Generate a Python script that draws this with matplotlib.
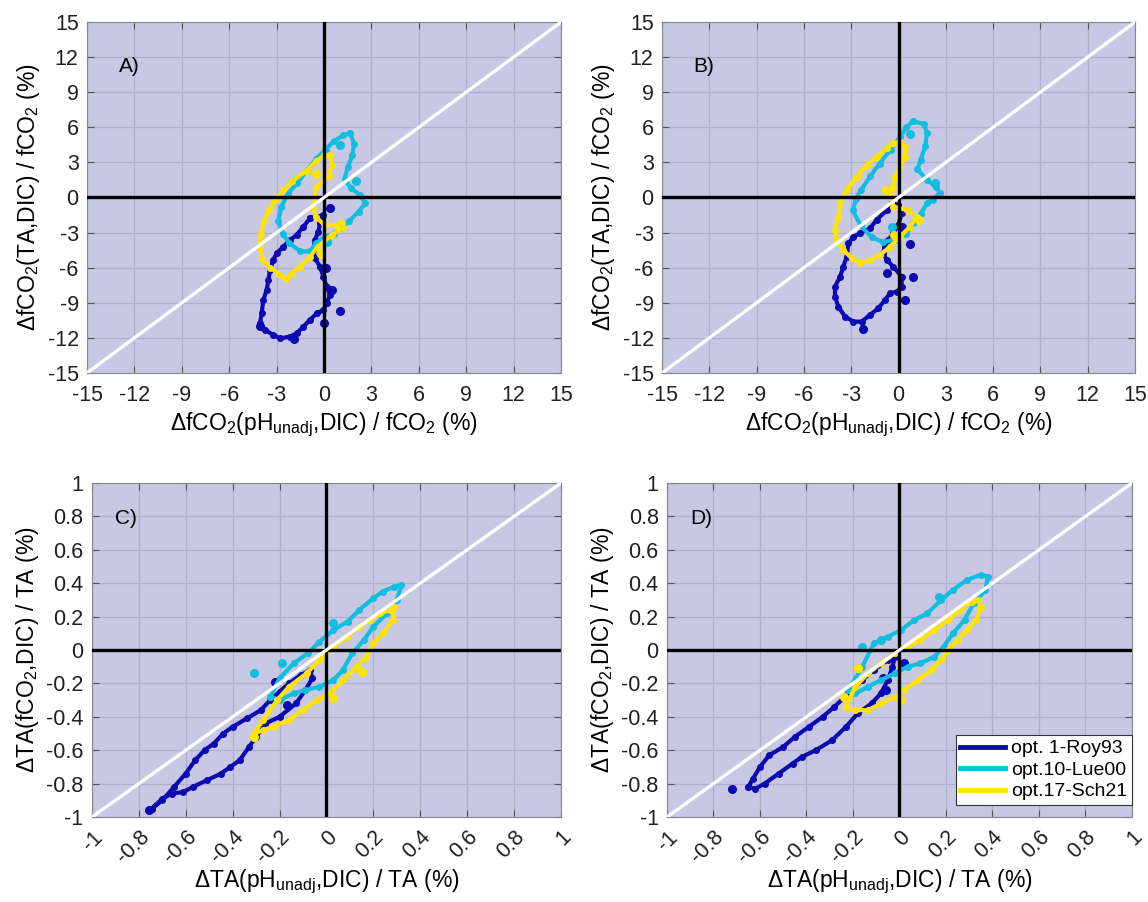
import matplotlib.pyplot as plt
import numpy as np

plt.rcParams['font.family'] = ['Liberation Sans', 'DejaVu Sans']
plt.rcParams['mathtext.default'] = 'regular'
plt.rcParams['axes.unicode_minus'] = False

# ---- contour loops (x, y in %) ----
# panel A
a_roy = [(-0.89, -1.78), (-1.31, -2.49), (-1.73, -3.21), (-2.15, -3.63), (-2.57, -4.2), (-3.0, -4.77),
         (-3.21, -5.34), (-3.42, -6.2), (-3.52, -7.05), (-3.63, -7.91), (-3.84, -8.76), (-3.95, -9.9),
         (-4.05, -10.75), (-3.73, -11.32), (-3.21, -11.75), (-2.78, -12.04), (-2.15, -11.89), (-1.73, -11.61),
         (-1.31, -11.04), (-0.89, -10.47), (-0.46, -9.9), (-0.04, -9.62), (0.17, -9.05), (0.38, -8.33),
         (0.17, -7.62), (-0.04, -6.77), (-0.25, -5.91), (-0.57, -5.2), (-0.68, -4.49), (-0.57, -3.63),
         (-0.36, -2.92), (-0.25, -2.21), (-0.04, -1.5)]
a_lue = [(1.65, 5.5), (1.9, 4.6), (1.8, 3.6), (1.5, 2.6), (1.3, 1.6), (1.7, 0.8), (2.3, 0.2), (2.6, -0.5),
         (2.2, -1.2), (1.6, -2.0), (1.1, -2.6), (0.6, -3.1), (0.0, -3.4), (-0.5, -3.9), (-0.9, -4.6),
         (-1.5, -4.6), (-2.2, -3.9), (-2.6, -3.1), (-2.9, -2.0), (-2.7, -0.8), (-2.3, 0.3), (-1.7, 1.2),
         (-1.1, 2.3), (-0.5, 3.3), (0.1, 4.1), (0.6, 4.8), (1.2, 5.3)]
a_sch = [(0.4, 3.6), (0.5, 2.8), (0.3, 1.8), (-0.5, 0.9), (-0.7, -0.8), (-0.5, -1.7), (0.0, -2.3), (0.8, -2.4),
         (1.2, -2.6), (0.5, -3.2), (-0.4, -4.2), (-0.9, -5.1), (-1.5, -5.9), (-2.1, -6.5), (-2.4, -7.0),
         (-2.9, -6.5), (-3.4, -6.0), (-3.9, -5.3), (-4.05, -4.2), (-4.0, -3.1), (-3.8, -2.0), (-3.5, -1.1),
         (-3.1, -0.2), (-2.6, 0.6), (-2.0, 1.4), (-1.1, 2.3), (-0.5, 3.1), (0.0, 3.6)]
a_roy_dots = [(1.0, -9.7), (0.5, -7.9), (0.4, -0.9), (0.1, -6.0), (-1.9, -12.1), (-4.05, -11.0), (0.0, -10.7)]
a_lue_dots = [(1.0, 4.5), (2.0, 1.4), (0.2, -3.8)]
a_sch_dots = [(-0.5, 2.0), (1.1, -2.3), (-0.2, -4.8)]

# panel B
b_roy = [(-0.43, -0.5), (-0.75, -1.07), (-1.39, -1.92), (-1.81, -2.64), (-2.44, -3.06), (-2.86, -3.35),
         (-3.18, -3.92), (-3.29, -5.06), (-3.5, -5.91), (-3.71, -6.77), (-4.03, -7.62), (-4.03, -8.48),
         (-3.82, -9.33), (-3.39, -10.19), (-2.86, -10.61), (-2.34, -10.61), (-1.81, -10.04), (-1.28, -9.47),
         (-0.86, -8.76), (-0.54, -8.19), (-0.12, -8.05), (0.2, -7.62), (0.2, -6.77), (-0.33, -5.91),
         (-0.75, -5.34), (-0.96, -4.77), (-0.86, -4.2), (-0.64, -3.63), (-0.33, -3.06), (-0.01, -2.35),
         (0.2, -1.35), (-0.01, -0.64)]
b_lue = [(0.9, 6.5), (1.6, 6.3), (1.8, 5.5), (1.7, 4.4), (1.4, 3.2), (1.2, 2.4), (1.8, 1.5), (2.4, 0.9),
         (2.6, 0.4), (2.2, -0.2), (1.8, -0.5), (1.4, -1.4), (0.9, -2.2), (0.5, -3.1), (-0.1, -3.6),
         (-1.0, -3.8), (-1.7, -3.4), (-2.4, -2.4), (-2.9, -1.1), (-2.7, -0.1), (-2.4, 0.6), (-1.8, 1.8),
         (-1.2, 2.9), (-0.5, 4.1), (0.1, 5.2), (0.5, 6.0)]
b_sch = [(0.1, 4.77), (0.41, 4.35), (0.4, 3.5), (0.1, 2.64), (-0.22, 1.78), (-0.33, 0.93), (-0.45, 0.1),
         (-0.33, -0.78), (0.52, -1.07), (1.15, -1.64), (0.73, -2.49), (0.1, -3.35), (-0.54, -4.2),
         (-1.17, -4.91), (-1.81, -5.34), (-2.44, -5.63), (-2.97, -5.2), (-3.5, -4.49), (-3.92, -3.63),
         (-4.03, -2.78), (-3.82, -1.64), (-3.71, -0.5), (-3.29, 0.64), (-2.65, 1.78), (-2.02, 2.78),
         (-1.38, 3.49), (-0.75, 4.2), (-0.33, 4.63)]
b_roy_dots = [(0.94, -6.77), (0.73, -3.98), (-0.75, -6.48), (-2.23, -11.27), (0.41, -8.76), (0.2, -2.49)]
b_lue_dots = [(0.7, 5.4), (2.3, 1.2), (-0.4, -2.5)]
b_sch_dots = [(-0.8, 0.6), (1.3, -1.9), (-0.3, -3.2)]

# panel C
c_roy = [(-0.745, -0.95), (-0.70, -0.90), (-0.65, -0.82), (-0.60, -0.74), (-0.56, -0.66), (-0.52, -0.60),
         (-0.48, -0.56), (-0.44, -0.50), (-0.40, -0.46), (-0.34, -0.41), (-0.28, -0.36), (-0.24, -0.30),
         (-0.20, -0.25), (-0.16, -0.20), (-0.11, -0.15), (-0.07, -0.12), (-0.06, -0.17), (-0.09, -0.24),
         (-0.13, -0.32), (-0.20, -0.40), (-0.26, -0.44), (-0.30, -0.52), (-0.33, -0.58), (-0.37, -0.66),
         (-0.41, -0.70), (-0.45, -0.74), (-0.51, -0.78), (-0.57, -0.82), (-0.61, -0.85), (-0.66, -0.86),
         (-0.70, -0.89)]
c_lue = [(-0.24, -0.28), (-0.20, -0.17), (-0.14, -0.08), (-0.08, -0.02), (-0.03, 0.05), (0.03, 0.12),
         (0.09, 0.17), (0.14, 0.24), (0.20, 0.31), (0.24, 0.35), (0.29, 0.38), (0.32, 0.39), (0.30, 0.30),
         (0.26, 0.22), (0.20, 0.14), (0.16, 0.06), (0.11, -0.02), (0.07, -0.12), (0.03, -0.18),
         (-0.03, -0.22), (-0.09, -0.24), (-0.14, -0.26), (-0.20, -0.30)]
c_sch = [(-0.31, -0.50), (-0.27, -0.42), (-0.21, -0.30), (-0.16, -0.22), (-0.085, -0.14), (-0.03, -0.06),
         (0.03, 0.02), (0.086, 0.08), (0.14, 0.14), (0.185, 0.18), (0.23, 0.22), (0.27, 0.24), (0.29, 0.26),
         (0.285, 0.18), (0.24, 0.10), (0.20, 0.04), (0.17, -0.04), (0.13, -0.10), (0.07, -0.18),
         (0.015, -0.26), (-0.04, -0.30), (-0.10, -0.36), (-0.16, -0.42), (-0.23, -0.46), (-0.27, -0.48)]
c_roy_dots = [(-0.755, -0.96), (-0.22, -0.19), (-0.17, -0.33)]
c_lue_dots = [(-0.31, -0.14), (-0.19, -0.08), (0.03, 0.16)]
c_sch_dots = [(0.03, -0.29), (0.15, -0.13), (-0.31, -0.52)]

# panel D
d_roy = [(-0.65, -0.82), (-0.63, -0.77), (-0.60, -0.70), (-0.56, -0.63), (-0.50, -0.58), (-0.45, -0.52),
         (-0.39, -0.46), (-0.33, -0.40), (-0.28, -0.34), (-0.22, -0.26), (-0.16, -0.18), (-0.11, -0.12),
         (-0.05, -0.06), (-0.02, -0.04), (-0.03, -0.10), (-0.05, -0.18), (-0.08, -0.26), (-0.12, -0.32),
         (-0.18, -0.38), (-0.23, -0.46), (-0.29, -0.54), (-0.36, -0.60), (-0.42, -0.64), (-0.46, -0.68),
         (-0.52, -0.74), (-0.58, -0.80), (-0.62, -0.83)]
d_lue = [(-0.22, -0.24), (-0.16, -0.10), (-0.11, 0.04), (-0.05, 0.08), (0.007, 0.12), (0.064, 0.18),
         (0.12, 0.22), (0.18, 0.30), (0.23, 0.36), (0.29, 0.42), (0.35, 0.45), (0.38, 0.44), (0.37, 0.36),
         (0.32, 0.28), (0.28, 0.18), (0.23, 0.10), (0.19, 0.02), (0.15, -0.04), (0.09, -0.08), (0.035, -0.10),
         (-0.02, -0.14), (-0.08, -0.18), (-0.135, -0.22), (-0.19, -0.26)]
d_sch = [(-0.23, -0.34), (-0.19, -0.22), (-0.135, -0.14), (-0.08, -0.08), (-0.02, -0.02), (0.035, 0.02),
         (0.09, 0.06), (0.15, 0.12), (0.21, 0.18), (0.26, 0.24), (0.31, 0.29), (0.34, 0.30), (0.35, 0.26),
         (0.33, 0.18), (0.29, 0.12), (0.25, 0.06), (0.21, 0.0), (0.18, -0.06), (0.135, -0.12), (0.08, -0.18),
         (0.02, -0.24), (-0.02, -0.28), (-0.08, -0.32), (-0.135, -0.36), (-0.19, -0.36)]
d_roy_dots = [(-0.72, -0.83), (-0.07, -0.17), (-0.06, -0.24), (0.02, -0.08)]
d_lue_dots = [(-0.16, 0.02), (-0.08, 0.06), (0.17, 0.32)]
d_sch_dots = [(-0.18, -0.11), (0.007, -0.30), (-0.24, -0.28)]

series_names = ['opt. 1-Roy93', 'opt.10-Lue00', 'opt.17-Sch21']
series_colors = ['#0a0ab0', '#12bde0', '#ffe400']

big_ticks = [-15, -12, -9, -6, -3, 0, 3, 6, 9, 12, 15]
small_ticks = [-1, -0.8, -0.6, -0.4, -0.2, 0, 0.2, 0.4, 0.6, 0.8, 1]
small_tick_labels = ['-1', '-0.8', '-0.6', '-0.4', '-0.2', '0', '0.2', '0.4', '0.6', '0.8', '1']

fco2_xlabel = 'ΔfCO$_2$(pH$_{unadj}$,DIC) / fCO$_2$ (%)'
fco2_ylabel = 'ΔfCO$_2$(TA,DIC) / fCO$_2$ (%)'
ta_xlabel = 'ΔTA(pH$_{unadj}$,DIC) / TA (%)'
ta_ylabel = 'ΔTA(fCO$_2$,DIC) / TA (%)'

panels = [
    dict(rect=[0.0758, 0.5865, 0.4129, 0.3891], tag='A)', loops=[a_roy, a_lue, a_sch],
         dots=[a_roy_dots, a_lue_dots, a_sch_dots], big=True),
    dict(rect=[0.5767, 0.5865, 0.4120, 0.3891], tag='B)', loops=[b_roy, b_lue, b_sch],
         dots=[b_roy_dots, b_lue_dots, b_sch_dots], big=True),
    dict(rect=[0.0801, 0.0942, 0.4085, 0.3703], tag='C)', loops=[c_roy, c_lue, c_sch],
         dots=[c_roy_dots, c_lue_dots, c_sch_dots], big=False),
    dict(rect=[0.5810, 0.0942, 0.4050, 0.3703], tag='D)', loops=[d_roy, d_lue, d_sch],
         dots=[d_roy_dots, d_lue_dots, d_sch_dots], big=False),
]

fig = plt.figure(figsize=(11.48, 9.02), dpi=100)

for i, p in enumerate(panels):
    ax = fig.add_axes(p['rect'])
    ax.set_facecolor('#c8c8e4')
    lim = 15 if p['big'] else 1
    ax.set_xlim(-lim, lim)
    ax.set_ylim(-lim, lim)

    handles = []
    for loop, dots, name, col in zip(p['loops'], p['dots'], series_names, series_colors):
        pts = np.array(loop + [loop[0]])
        h, = ax.plot(pts[:, 0], pts[:, 1], color=col, lw=3.0, marker='o', ms=4,
                     solid_joinstyle='round', label=name, zorder=3)
        d = np.array(dots)
        ax.plot(d[:, 0], d[:, 1], 'o', color=col, ms=5.5, zorder=3)
        handles.append(h)

    ax.axhline(0, color='black', lw=2.4, zorder=4)
    ax.axvline(0, color='black', lw=2.4, zorder=4)
    ax.plot([-lim, lim], [-lim, lim], color='white', lw=2.4, zorder=5)

    if p['big']:
        ax.set_xticks(big_ticks)
        ax.set_yticks(big_ticks)
        ax.set_xlabel(fco2_xlabel, fontsize=16.5, labelpad=3)
        ax.set_ylabel(fco2_ylabel, fontsize=16.5, labelpad=4)
        ax.text(-13, 11.2, p['tag'], fontsize=15, va='center', ha='left', zorder=6)
        ax.tick_params(axis='x', pad=9)
    else:
        ax.set_xticks(small_ticks)
        ax.set_xticklabels(small_tick_labels, rotation=45, ha='right', rotation_mode='anchor')
        ax.set_yticks(small_ticks)
        ax.set_yticklabels(small_tick_labels)
        ax.set_xlabel(ta_xlabel, fontsize=16.5, labelpad=0)
        ax.set_ylabel(ta_ylabel, fontsize=16.5, labelpad=4)
        ax.text(-0.9, 0.79, p['tag'], fontsize=15, va='center', ha='left', zorder=6)
        ax.tick_params(axis='x', pad=7)

    ax.grid(True, color='#b0b0cc', lw=0.9, zorder=0)
    ax.set_axisbelow(True)
    ax.tick_params(direction='in', top=True, right=True, length=5, width=0.8,
                   color='#555555', labelsize=15.5, labelcolor='#202020')
    ax.tick_params(axis='y', pad=6)
    for s in ax.spines.values():
        s.set_color('#888888')
        s.set_linewidth(0.8)

    if i == 3:
        leg = ax.legend(handles=handles, loc='lower right', bbox_to_anchor=(1.0, 0.035),
                        fontsize=14, handlelength=2.3, frameon=True, fancybox=False,
                        borderaxespad=0.0, labelspacing=0.2, handletextpad=0.3, borderpad=0.25)
        leg.get_frame().set_edgecolor('#333333')
        leg.get_frame().set_linewidth(0.8)
        leg.get_frame().set_alpha(1)
        for lh in leg.get_lines():
            lh.set_marker('')
            lh.set_linewidth(3.5)

fig.savefig('out.png', dpi=100)
